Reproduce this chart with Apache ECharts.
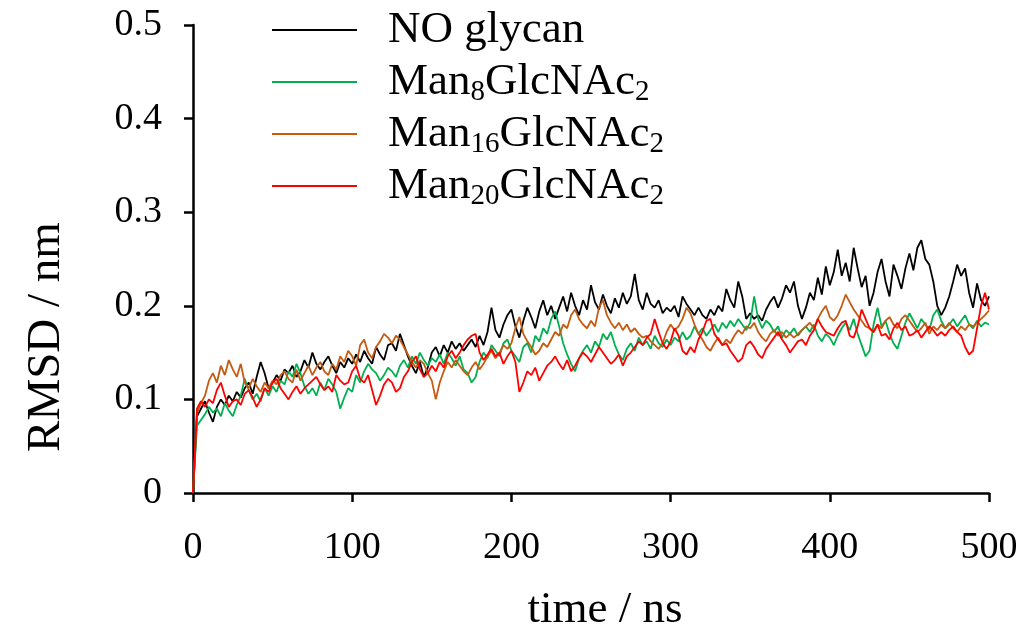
<!DOCTYPE html>
<html>
<head>
<meta charset="utf-8">
<script src="https://cdn.jsdelivr.net/npm/echarts@6/dist/echarts.min.js"></script>
<style>
html,body{margin:0;padding:0;background:#fff;}
#chart{width:1036px;height:633px;}
</style>
</head>
<body>
<div id="chart"></div>
<script>
// Sampling interval of the trajectories (ns between stored RMSD values)
const timeStepNs = 2.5;

const seriesNames = ['NO glycan', 'Man8GlcNAc2', 'Man16GlcNAc2', 'Man20GlcNAc2'];
const legendLabels = ['NO glycan', 'Man{sub|8}GlcNAc{sub|2}', 'Man{sub|16}GlcNAc{sub|2}', 'Man{sub|20}GlcNAc{sub|2}'];

const xTicks = [0, 100, 200, 300, 400, 500];
const yTicks = [0, 0.1, 0.2, 0.3, 0.4, 0.5];

// RMSD values (nm), one every 2.5 ns from 0 to 500 ns
const noGlycan = [
  0, 0.082, 0.09, 0.098, 0.086, 0.076, 0.092, 0.1, 0.094, 0.104,
  0.098, 0.108, 0.102, 0.112, 0.118, 0.106, 0.124, 0.14, 0.128, 0.112,
  0.118, 0.126, 0.12, 0.132, 0.128, 0.136, 0.124, 0.13, 0.142, 0.134,
  0.15, 0.138, 0.132, 0.14, 0.146, 0.136, 0.128, 0.14, 0.134, 0.144,
  0.138, 0.148, 0.14, 0.152, 0.144, 0.138, 0.156, 0.148, 0.142, 0.158,
  0.16, 0.152, 0.17, 0.158, 0.146, 0.136, 0.128, 0.14, 0.124, 0.134,
  0.15, 0.156, 0.146, 0.158, 0.15, 0.162, 0.154, 0.16, 0.152, 0.158,
  0.164, 0.156, 0.168, 0.158, 0.172, 0.198, 0.174, 0.166, 0.18, 0.19,
  0.196, 0.178, 0.166, 0.184, 0.198, 0.188, 0.176, 0.194, 0.206, 0.19,
  0.2, 0.186, 0.198, 0.21, 0.194, 0.214, 0.2, 0.19, 0.206, 0.196,
  0.222, 0.204, 0.196, 0.212, 0.2, 0.192, 0.208, 0.198, 0.214, 0.202,
  0.21, 0.234, 0.206, 0.196, 0.214, 0.202, 0.198, 0.206, 0.192, 0.198,
  0.194, 0.2, 0.188, 0.21, 0.202, 0.196, 0.19, 0.198, 0.19, 0.186,
  0.196, 0.19, 0.2, 0.194, 0.218, 0.206, 0.198, 0.226, 0.21, 0.186,
  0.192, 0.186, 0.19, 0.184, 0.196, 0.204, 0.21, 0.198, 0.208, 0.222,
  0.214, 0.226, 0.2, 0.186, 0.198, 0.214, 0.206, 0.23, 0.212, 0.242,
  0.222, 0.236, 0.26, 0.232, 0.246, 0.226, 0.262, 0.24, 0.22, 0.232,
  0.2, 0.214, 0.236, 0.25, 0.226, 0.21, 0.244, 0.232, 0.218, 0.24,
  0.256, 0.238, 0.262, 0.27, 0.25, 0.244, 0.226, 0.2, 0.19, 0.198,
  0.21, 0.226, 0.244, 0.232, 0.24, 0.214, 0.198, 0.224, 0.206, 0.2,
  0.21
];

const man8 = [
  0, 0.072, 0.078, 0.084, 0.092, 0.086, 0.09, 0.082, 0.096, 0.088,
  0.082, 0.094, 0.104, 0.122, 0.11, 0.1, 0.106, 0.098, 0.112, 0.104,
  0.114, 0.108, 0.12, 0.116, 0.13, 0.124, 0.138, 0.128, 0.114, 0.106,
  0.112, 0.104, 0.118, 0.11, 0.122, 0.116, 0.108, 0.09, 0.102, 0.112,
  0.108, 0.126, 0.118, 0.13, 0.138, 0.132, 0.128, 0.12, 0.126, 0.134,
  0.13, 0.124, 0.136, 0.142, 0.134, 0.146, 0.138, 0.15, 0.142, 0.136,
  0.144, 0.14, 0.148, 0.138, 0.15, 0.144, 0.136, 0.146, 0.132, 0.128,
  0.118, 0.124, 0.14, 0.15, 0.144, 0.158, 0.152, 0.146, 0.16, 0.164,
  0.152, 0.146, 0.14, 0.156, 0.16, 0.15, 0.168, 0.162, 0.176, 0.17,
  0.186, 0.194, 0.178, 0.16, 0.148, 0.138, 0.13, 0.144, 0.152, 0.158,
  0.15, 0.162, 0.156, 0.17, 0.164, 0.172, 0.158, 0.148, 0.142, 0.154,
  0.16, 0.152, 0.166, 0.158, 0.162, 0.154, 0.168, 0.16, 0.156, 0.164,
  0.158, 0.166, 0.162, 0.172, 0.164, 0.168, 0.178, 0.17, 0.176, 0.168,
  0.174, 0.18, 0.172, 0.182, 0.176, 0.184, 0.178, 0.186, 0.18, 0.174,
  0.182, 0.21, 0.186, 0.176, 0.184, 0.18, 0.172, 0.178, 0.166, 0.174,
  0.17, 0.176, 0.168, 0.174, 0.178, 0.172, 0.18, 0.168, 0.162, 0.17,
  0.166, 0.158, 0.168, 0.176, 0.182, 0.174, 0.186, 0.17, 0.158, 0.146,
  0.152, 0.18, 0.198, 0.178, 0.184, 0.17, 0.16, 0.154, 0.168, 0.182,
  0.192, 0.184, 0.176, 0.186, 0.18, 0.174, 0.19, 0.196, 0.184, 0.176,
  0.18, 0.186, 0.178, 0.184, 0.19, 0.18, 0.176, 0.184, 0.178, 0.182,
  0.18
];

const man16 = [
  0, 0.085, 0.096, 0.104, 0.12, 0.128, 0.118, 0.136, 0.126, 0.142,
  0.132, 0.124, 0.138, 0.118, 0.112, 0.122, 0.114, 0.108, 0.118, 0.112,
  0.12, 0.116, 0.126, 0.13, 0.122, 0.118, 0.132, 0.12, 0.128, 0.136,
  0.126, 0.134, 0.14, 0.13, 0.126, 0.138, 0.132, 0.146, 0.14, 0.152,
  0.146, 0.136, 0.158, 0.164, 0.15, 0.144, 0.156, 0.162, 0.17, 0.166,
  0.16, 0.168, 0.164, 0.156, 0.148, 0.14, 0.134, 0.142, 0.138, 0.128,
  0.12, 0.1, 0.118, 0.13, 0.14, 0.134, 0.142, 0.136, 0.13, 0.126,
  0.134, 0.14, 0.132, 0.138, 0.146, 0.152, 0.144, 0.15, 0.158, 0.154,
  0.16, 0.176, 0.188, 0.17, 0.162, 0.156, 0.148, 0.152, 0.16, 0.156,
  0.164, 0.172, 0.168, 0.18, 0.176, 0.19, 0.196, 0.186, 0.18, 0.176,
  0.184, 0.178, 0.198, 0.206, 0.19, 0.182, 0.176, 0.182, 0.174, 0.18,
  0.172, 0.176, 0.17, 0.166, 0.168, 0.162, 0.158, 0.154, 0.16, 0.172,
  0.18, 0.174, 0.178, 0.186, 0.198, 0.192, 0.18, 0.17, 0.164, 0.156,
  0.152, 0.16, 0.166, 0.158, 0.164, 0.16, 0.168, 0.174, 0.17, 0.178,
  0.176, 0.182, 0.172, 0.166, 0.162, 0.17, 0.174, 0.168, 0.172, 0.166,
  0.17, 0.166, 0.17, 0.174, 0.178, 0.182, 0.176, 0.186, 0.194, 0.2,
  0.188, 0.184, 0.19, 0.2, 0.212, 0.204, 0.196, 0.19, 0.184, 0.178,
  0.176, 0.172, 0.18, 0.176, 0.184, 0.188, 0.18, 0.176, 0.186, 0.19,
  0.184, 0.178, 0.172, 0.176, 0.182, 0.17, 0.178, 0.174, 0.18, 0.176,
  0.182, 0.176, 0.172, 0.178, 0.174, 0.18, 0.178, 0.182, 0.186, 0.19,
  0.195
];

const man20 = [
  0, 0.09, 0.098, 0.092, 0.1, 0.096, 0.11, 0.118, 0.104, 0.092,
  0.098, 0.1, 0.094, 0.106, 0.11, 0.102, 0.092, 0.1, 0.112, 0.108,
  0.118, 0.122, 0.112, 0.106, 0.1, 0.108, 0.114, 0.106, 0.112, 0.116,
  0.12, 0.124, 0.116, 0.11, 0.114, 0.108, 0.126, 0.12, 0.116, 0.118,
  0.13, 0.136, 0.122, 0.118, 0.126, 0.11, 0.094, 0.104, 0.116, 0.122,
  0.118, 0.108, 0.112, 0.124, 0.13, 0.14, 0.146, 0.132, 0.124, 0.128,
  0.136, 0.13, 0.14, 0.134, 0.146, 0.152, 0.144, 0.15, 0.158, 0.164,
  0.168, 0.17, 0.15, 0.142, 0.148, 0.154, 0.146, 0.15, 0.138, 0.146,
  0.152, 0.14, 0.108, 0.118, 0.13, 0.126, 0.134, 0.12, 0.128, 0.136,
  0.14, 0.146, 0.138, 0.132, 0.142, 0.13, 0.136, 0.144, 0.15, 0.146,
  0.14, 0.148, 0.156, 0.15, 0.144, 0.138, 0.142, 0.148, 0.136, 0.146,
  0.15, 0.156, 0.162, 0.158, 0.166, 0.17, 0.186, 0.172, 0.16, 0.154,
  0.162, 0.176, 0.168, 0.152, 0.148, 0.156, 0.15, 0.164, 0.172, 0.184,
  0.186, 0.17, 0.164, 0.158, 0.16, 0.152, 0.146, 0.14, 0.144, 0.158,
  0.162, 0.156, 0.148, 0.144, 0.154, 0.16, 0.166, 0.172, 0.164, 0.158,
  0.15, 0.156, 0.162, 0.164, 0.158, 0.168, 0.174, 0.186, 0.178, 0.172,
  0.17, 0.168, 0.176, 0.182, 0.184, 0.168, 0.166, 0.178, 0.196, 0.186,
  0.176, 0.172, 0.18, 0.168, 0.17, 0.164, 0.176, 0.182, 0.174, 0.178,
  0.168, 0.17, 0.174, 0.166, 0.172, 0.178, 0.174, 0.168, 0.172, 0.168,
  0.174, 0.178, 0.172, 0.168, 0.156, 0.148, 0.152, 0.176, 0.2, 0.214,
  0.196
];

const seriesValues = [noGlycan, man8, man16, man20];
const seriesColors = ['#000000', '#00B050', '#C55A11', '#FF0000'];

const FONT = '"Liberation Serif", "Times New Roman", serif';

const chart = echarts.init(document.getElementById('chart'), null, {renderer: 'canvas'});

const series = seriesValues.map((vals, k) => ({
  name: seriesNames[k],
  type: 'line',
  data: vals.map((v, i) => [i * timeStepNs, v]),
  showSymbol: false,
  symbol: 'none',
  lineStyle: {color: seriesColors[k], width: 1.8},
  itemStyle: {color: seriesColors[k]},
  animation: false,
  z: 2 + k
}));

chart.setOption({
  backgroundColor: '#ffffff',
  animation: false,
  grid: {left: 193, right: 47, top: 25, bottom: 140, containLabel: false, outerBoundsMode: 'none'},
  legend: {
    orient: 'vertical',
    left: 272,
    top: 5,
    padding: 0,
    itemWidth: 85,
    itemHeight: 14,
    itemGap: 2,
    icon: 'path://M0,6 L85,6 L85,8 L0,8 Z',
    data: seriesNames,
    formatter: function (name) { return legendLabels[seriesNames.indexOf(name)]; },
    textStyle: {
      fontFamily: FONT,
      fontSize: 45,
      color: '#000',
      lineHeight: 50,
      padding: [0, 0, 0, 26],
      rich: {
        sub: {fontFamily: FONT, fontSize: 29, lineHeight: 24, verticalAlign: 'bottom', color: '#000'}
      }
    }
  },
  xAxis: {
    type: 'value',
    min: xTicks[0],
    max: xTicks[xTicks.length - 1],
    interval: xTicks[1] - xTicks[0],
    name: 'time / ns',
    nameLocation: 'middle',
    nameGap: 95,
    nameTextStyle: {fontFamily: FONT, fontSize: 45, color: '#000', padding: [0, 0, 0, 28]},
    axisLine: {show: true, onZero: false, lineStyle: {color: '#000', width: 2.5}},
    axisTick: {show: true, inside: false, length: 9, lineStyle: {color: '#000', width: 2.5}},
    axisLabel: {fontFamily: FONT, fontSize: 38, color: '#000', margin: 36},
    splitLine: {show: false}
  },
  yAxis: {
    type: 'value',
    min: yTicks[0],
    max: yTicks[yTicks.length - 1],
    interval: 0.1,
    name: 'RMSD / nm',
    nameLocation: 'middle',
    nameGap: 123,
    nameRotate: 90,
    nameTextStyle: {fontFamily: FONT, fontSize: 47, color: '#000', padding: [0, 156, 0, 0]},
    axisLine: {show: true, onZero: false, lineStyle: {color: '#000', width: 2.5}},
    axisTick: {show: true, inside: false, length: 9, lineStyle: {color: '#000', width: 2.5}},
    axisLabel: {fontFamily: FONT, fontSize: 38, color: '#000', margin: 31,
      formatter: function (v) { return String(Math.round(v * 10) / 10); }},
    splitLine: {show: false}
  },
  series: series
});
</script>
</body>
</html>
